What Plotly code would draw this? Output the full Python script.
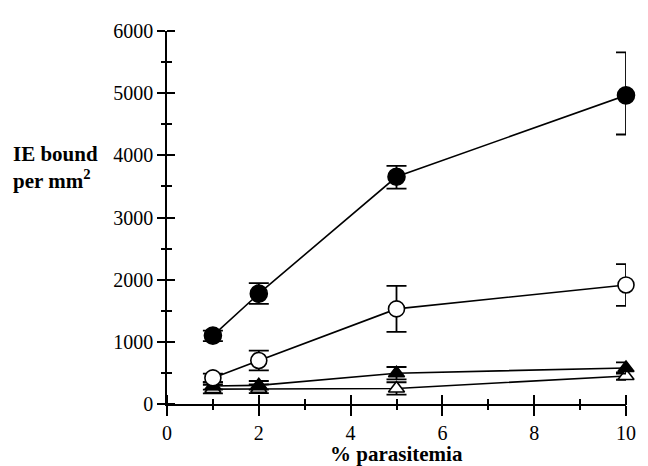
import plotly.graph_objects as go

x = [1, 2, 5, 10]

filled_circle = [1100, 1775, 3655, 4965]
filled_circle_err_plus = [80, 170, 175, 690]
filled_circle_err_minus = [90, 165, 190, 630]

open_circle = [420, 700, 1530, 1915]
open_circle_err = [70, 160, 370, 335]

filled_triangle = [290, 300, 495, 580]
filled_triangle_err = [60, 70, 100, 90]

open_triangle = [240, 245, 250, 450]
open_triangle_err = [70, 70, 100, 60]

x_ticks = [0, 2, 4, 6, 8, 10]
x_minor_ticks = [1, 3, 5, 7, 9]
y_ticks = [0, 1000, 2000, 3000, 4000, 5000, 6000]
y_minor_ticks = [500, 1500, 2500, 3500, 4500, 5500]

FONT = "Liberation Serif"

W, H = 640, 458
ML, MR, MT, MB = 159, 15, 15, 62
PW, PH = W - ML - MR, H - MT - MB

fig = go.Figure()

def add_series(y, err_plus, err_minus, symbol, fill, size):
    fig.add_trace(go.Scatter(
        x=x, y=y, mode="lines+markers",
        line=dict(color="black", width=1.6),
        marker=dict(symbol=symbol, size=size, color=fill,
                    line=dict(color="black", width=1.6)),
        error_y=dict(type="data", array=err_plus, arrayminus=err_minus,
                     symmetric=False, color="black", thickness=1.8, width=10),
        cliponaxis=False, showlegend=False,
    ))

add_series(open_triangle, open_triangle_err, open_triangle_err, "triangle-up", "white", 14)
add_series(filled_triangle, filled_triangle_err, filled_triangle_err, "triangle-up", "black", 14)
add_series(open_circle, open_circle_err, open_circle_err, "circle", "white", 16)
add_series(filled_circle, filled_circle_err_plus, filled_circle_err_minus, "circle", "black", 17)

# invisible traces to activate helper axes (inner halves of crossing ticks)
for xa, ya in (("x2", "y2"), ("x3", "y3")):
    fig.add_trace(go.Scatter(x=[0], y=[0], xaxis=xa, yaxis=ya, mode="markers",
                             marker=dict(opacity=0), showlegend=False,
                             hoverinfo="skip"))

tick_style = dict(tickcolor="black", tickwidth=1.6)
axis_common = dict(showgrid=False, zeroline=False, showline=True,
                   linecolor="black", linewidth=1.6, **tick_style,
                   tickfont=dict(family=FONT, size=20, color="black"))
helper = dict(showgrid=False, zeroline=False, showline=False,
              showticklabels=False, ticks="outside", **tick_style)

fig.update_layout(
    width=W, height=H,
    margin=dict(l=ML, r=MR, t=MT, b=MB),
    plot_bgcolor="white", paper_bgcolor="white",
    xaxis=dict(range=[0, 10], tickvals=x_ticks, ticks="outside", ticklen=10,
               minor=dict(tickvals=x_minor_ticks, ticks="outside", ticklen=4,
                          **tick_style),
               **axis_common),
    yaxis=dict(range=[0, 6000], tickvals=y_ticks, ticks="outside", ticklen=8,
               minor=dict(tickvals=y_minor_ticks, ticks="outside", ticklen=4,
                          **tick_style),
               **axis_common),
    xaxis2=dict(range=[0, 10], overlaying="x", anchor="free",
                position=10 / PH, side="bottom", tickvals=x_ticks,
                ticklen=10, **helper),
    xaxis3=dict(range=[0, 10], overlaying="x", anchor="free",
                position=6 / PH, side="bottom", tickvals=x_minor_ticks,
                ticklen=6, **helper),
    yaxis2=dict(range=[0, 6000], overlaying="y", anchor="free",
                position=8 / PW, side="left", tickvals=y_ticks,
                ticklen=8, **helper),
    yaxis3=dict(range=[0, 6000], overlaying="y", anchor="free",
                position=5 / PW, side="left", tickvals=y_minor_ticks,
                ticklen=5, **helper),
)

fig.add_annotation(text="<b>% parasitemia</b>", xref="paper", yref="paper",
                   x=0.5, y=-0.134, showarrow=False, yanchor="middle",
                   font=dict(family=FONT, size=21, color="black"))
fig.add_annotation(text="<b>IE bound<br>per mm<sup>2</sup></b>", xref="paper",
                   yref="paper", x=0, xshift=-156, y=0.635, showarrow=False,
                   align="left", xanchor="left", yanchor="middle",
                   font=dict(family=FONT, size=21, color="black"))

fig.write_html("out.html")
